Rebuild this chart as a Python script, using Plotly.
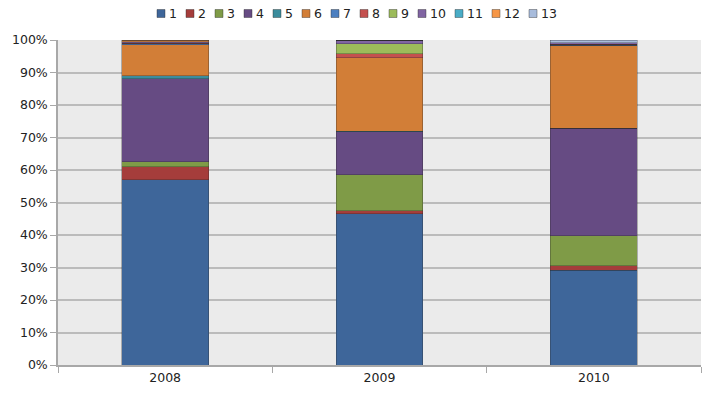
import plotly.graph_objects as go

years = ["2008", "2009", "2010"]
series_names = ["1", "2", "3", "4", "5", "6", "7", "8", "9", "10", "11", "12", "13"]
values = {
    "1":  [57.0, 46.5, 29.2],
    "2":  [4.0, 0.9, 1.3],
    "3":  [1.6, 11.1, 9.2],
    "4":  [25.5, 13.2, 33.2],
    "5":  [0.9, 0.2, 0.0],
    "6":  [9.6, 22.6, 25.3],
    "7":  [0.2, 0.0, 0.2],
    "8":  [0.2, 1.2, 0.3],
    "9":  [0.1, 3.1, 0.0],
    "10": [0.4, 1.2, 0.5],
    "11": [0.0, 0.0, 0.0],
    "12": [0.5, 0.0, 0.0],
    "13": [0.0, 0.0, 0.8],
}
colors = ["#3E669A", "#A53D3B", "#7F9B47", "#664B83", "#3B8C9C", "#D27E37",
          "#4B7FC0", "#C4504E", "#9CBB5A", "#8064A2", "#4AACC6", "#F69646", "#A8BCDC"]
y_ticks = [0, 10, 20, 30, 40, 50, 60, 70, 80, 90, 100]

fig = go.Figure()
for name, col in zip(series_names, colors):
    fig.add_trace(go.Bar(
        x=years, y=values[name], name=name,
        marker=dict(color=col, line=dict(color="rgba(40,40,40,0.4)", width=0.8)),
        width=0.405, showlegend=False,
    ))

W, H = 709, 394
L, R, T, B = 58, 8, 40, 29
pw, ph = W - L - R, H - T - B

def px2x(px):
    return (px - L) / pw

def py2y(py):
    return (H - B - py) / ph

# custom legend
shapes = []
annotations = []
xpos = 157
for name, col in zip(series_names, colors):
    shapes.append(dict(type="rect", xref="paper", yref="paper",
                       x0=px2x(xpos), x1=px2x(xpos + 8),
                       y0=py2y(17.5), y1=py2y(9.5),
                       fillcolor=col, line=dict(color="rgba(40,40,40,0.5)", width=0.8)))
    annotations.append(dict(xref="paper", yref="paper", x=px2x(xpos + 10), y=py2y(13.5),
                            text=name, showarrow=False, xanchor="left", yanchor="middle",
                            font=dict(family="DejaVu Sans", size=12.5, color="#222")))
    xpos += 29 if len(name) == 1 else 37

fig.update_layout(
    width=W, height=H,
    margin=dict(l=L, r=R, t=T, b=B, pad=0),
    barmode="stack",
    paper_bgcolor="white",
    plot_bgcolor="#EBEBEB",
    font=dict(family="DejaVu Sans", size=12.5, color="#222"),
    shapes=shapes,
    annotations=annotations,
    xaxis=dict(
        automargin=False,
        showline=True, linecolor="#A8A8A8", linewidth=1.5,
        ticks="outside", tickson="boundaries", ticklen=6, tickcolor="#A8A8A8",
        showgrid=False, tickfont=dict(size=12.5, color="#222"),
    ),
    yaxis=dict(
        automargin=False,
        range=[0, 100], tickvals=y_ticks, ticktext=[f"{v}%" for v in y_ticks],
        showline=True, linecolor="#A8A8A8", linewidth=1.5,
        ticks="outside", ticklen=6, tickcolor="#A8A8A8",
        showgrid=True, gridcolor="#BBBBBB", gridwidth=1.5,
        zeroline=False, tickfont=dict(size=12.5, color="#222"),
    ),
)

fig.write_html("out.html", config={"displayModeBar": False},
               post_script="document.body.style.margin='0';")
